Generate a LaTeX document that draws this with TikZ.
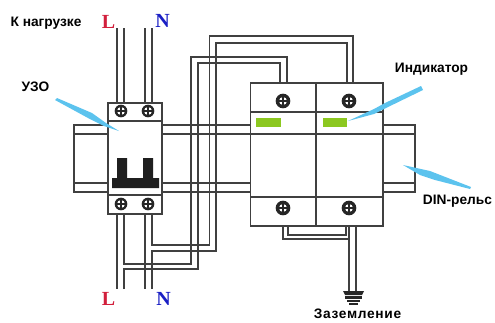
\documentclass[tikz,border=0pt]{standalone}
\usepackage{fontspec}
\setmainfont{Liberation Sans}
\newfontfamily\phasefont{Liberation Serif}
\definecolor{wirecol}{HTML}{404040}
\definecolor{leadcol}{HTML}{5CC3EE}
\definecolor{ledcol}{HTML}{8CC820}
\definecolor{phasered}{HTML}{D21F3C}
\definecolor{phaseblue}{HTML}{1A1FC4}
\tikzset{
    wire/.style={draw=wirecol, line width=0.8pt},
    housing/.style={draw=wirecol, line width=0.8pt, fill=white},
    caption/.style={font=\fontsize{10.3}{12}\selectfont\bfseries, inner sep=0pt},
    phase/.style={font=\fontsize{15}{17}\selectfont\phasefont\bfseries, inner sep=0pt},
    leader/.style={fill=leadcol, draw=none},
    screw/.style={circle, fill=black!85, minimum size=9.5pt, inner sep=0pt,
        path picture={
            \fill[white] (path picture bounding box.center) circle (3pt);
            \draw[black!85, line width=1.4pt] (path picture bounding box.west) -- (path picture bounding box.east);
            \draw[black!85, line width=1.4pt] (path picture bounding box.north) -- (path picture bounding box.south);
        }},
}
\begin{document}
\begin{tikzpicture}[x=0.75pt, y=-0.75pt]
    \useasboundingbox (0,0) rectangle (495,322);
    
    % din rail
    \draw[wire] (108,125) -- (74,125) -- (74,192) -- (108,192);
    \draw[wire] (74,134) -- (108,134);
    \draw[wire] (74,183) -- (108,183);
    \draw[wire] (162,125) -- (415,125) -- (415,192) -- (162,192);
    \draw[wire] (162,134) -- (415,134);
    \draw[wire] (162,183) -- (415,183);
    
    % breaker and arrester housings
    \node[housing, minimum width=40.5pt, minimum height=83.25pt, inner sep=0pt] (breaker) at (135,158.5) {};
    \node[housing, minimum width=49.5pt, minimum height=107.25pt, inner sep=0pt] (arresterA) at (283.5,154.5) {};
    \node[housing, minimum width=50.25pt, minimum height=107.25pt, inner sep=0pt] (arresterB) at (349.5,154.5) {};
    \draw[wire] (108,121) -- (162,121);
    \draw[wire] (108,195) -- (162,195);
    \foreach \y in {112,134,197}
    \draw[wire] (251,\y) -- (383,\y);
    
    % switch lever
    \fill[black!88] (112,188) -- (112,178) -- (117,178) -- (117,158) -- (127,158) -- (127,178)
        -- (143,178) -- (143,158) -- (153,158) -- (153,178) -- (159,178) -- (159,188) -- cycle;
    
    % screws
    \foreach \n/\x/\y in {a/121/111, b/148/111, c/121/204, d/148/204}
    \node[screw] (s\n) at (\x,\y) {};
    \foreach \n/\x/\y in {e/283/101, f/349/101, g/283/208, h/349/208}
    \node[screw, minimum size=11pt] (s\n) at (\x,\y) {};
    
    % indicators
    \fill[ledcol] (256,118) rectangle (281,127);
    \fill[ledcol] (323,118) rectangle (347,127);
    
    % wires
    \foreach \x in {117,124,145,152}
    \draw[wire] (\x,28) -- (\x,103);
    \draw[wire] (117,214) -- (117,289);
    \draw[wire] (145,214) -- (145,289);
    \draw[wire] (124,214) -- (124,264) -- (191,264) -- (191,57) -- (287,57) -- (287,83);
    \draw[wire] (124,289) -- (124,269) -- (198,269) -- (198,63) -- (280,63) -- (280,83);
    \draw[wire] (152,214) -- (152,245) -- (209.5,245) -- (209.5,36) -- (353,36) -- (353,83);
    \draw[wire] (152,289) -- (152,251) -- (216,251) -- (216,43) -- (347,43) -- (347,83);
    
    % earth
    \draw[wire] (283,226) -- (283,239) -- (349,239);
    \draw[wire] (288,226) -- (288,235) -- (346,235) -- (346,226);
    \draw[wire] (349,226) -- (349,291);
    \draw[wire] (356,226) -- (356,291);
    \fill[black!85] (343,291) -- (364,291) -- (362,295) -- (345,295) -- cycle;
    \fill[black!85] (345,296) rectangle (362,298.5);
    \fill[black!85] (347,299.5) rectangle (360,302);
    \fill[black!85] (349,303) rectangle (358,305);
    
    % pointers
    \fill[leader] (55,100) -- (57,98) -- (92,113) -- (106,123) -- (119,131) -- (104,126) -- (88,118) -- cycle;
    \fill[leader] (423,90) -- (421,86) -- (385,103) -- (374,109) -- (348,121) -- (374,114) -- (386,108) -- cycle;
    \fill[leader] (470,189) -- (471,187) -- (430,171) -- (403,165) -- (420,175) -- (435,180) -- cycle;
    
    % labels
    \node[caption] (load) at (46,23) {К нагрузке};
    \node[caption] (rcd) at (35.5,87) {УЗО};
    \node[caption] (led) at (431.5,69) {Индикатор};
    \node[caption] (din) at (457.5,201) {DIN-рельс};
    \node[caption] (earth) at (357.5,314) {\addfontfeature{LetterSpace=5}Заземление};
    \node[phase, text=phasered] (ltop) at (108.5,22) {L};
    \node[phase, text=phaseblue] (ntop) at (162.5,21) {N};
    \node[phase, text=phasered] (lbot) at (108.5,299) {L};
    \node[phase, text=phaseblue] (nbot) at (163.5,299) {N};
\end{tikzpicture}
\end{document}
